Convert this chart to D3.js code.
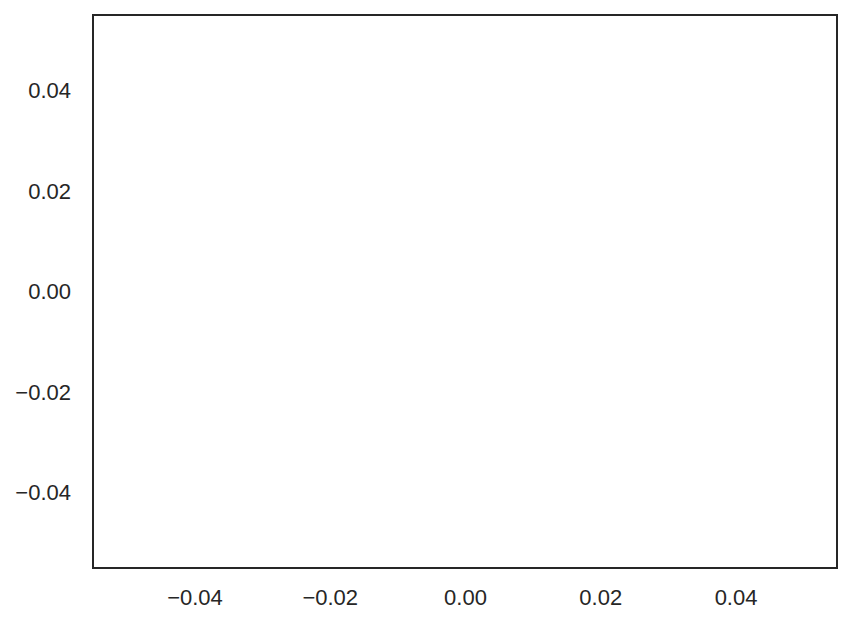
<!DOCTYPE html>
<html>
<head>
<meta charset="utf-8">
<script src="https://cdn.jsdelivr.net/npm/d3@7"></script>
<style>
  body { margin: 0; background: #fff; }
  text { font-family: "Liberation Sans", Arial, sans-serif; }
</style>
</head>
<body>
<div id="chart"></div>
<script>
// Empty axes, both running -0.055 .. 0.055
var xDomain = [-0.055, 0.055];
var yDomain = [-0.055, 0.055];
var xTicks = [-0.04, -0.02, 0.00, 0.02, 0.04];
var yTicks = [-0.04, -0.02, 0.00, 0.02, 0.04];

var width = 851, height = 624;
var margin = {left: 93, right: 14, top: 15, bottom: 56};

var svg = d3.select("#chart").append("svg")
  .attr("width", width)
  .attr("height", height);

var x = d3.scaleLinear()
  .domain(xDomain)
  .range([margin.left, width - margin.right]);

var y = d3.scaleLinear()
  .domain(yDomain)
  .range([height - margin.bottom, margin.top]);

var fmt = function(d) { return d3.format(".2f")(d).replace("-", "\u2212"); };

// x axis labels
var xAxis = svg.append("g")
  .attr("transform", "translate(0," + (height - margin.bottom) + ")")
  .call(d3.axisBottom(x).tickValues(xTicks).tickFormat(fmt).tickSize(0).tickPadding(21));
xAxis.select(".domain").remove();
xAxis.selectAll("text")
  .attr("font-size", "22px")
  .attr("fill", "#262626")
  .attr("font-family", "'Liberation Sans', Arial, sans-serif");

// y axis labels
var yAxis = svg.append("g")
  .attr("transform", "translate(" + margin.left + ",0)")
  .call(d3.axisLeft(y).tickValues(yTicks).tickFormat(fmt).tickSize(0).tickPadding(22));
yAxis.select(".domain").remove();
yAxis.selectAll("text")
  .attr("font-size", "22px")
  .attr("fill", "#262626")
  .attr("font-family", "'Liberation Sans', Arial, sans-serif");

// frame
svg.append("rect")
  .attr("x", x(xDomain[0]))
  .attr("y", y(yDomain[1]))
  .attr("width", x(xDomain[1]) - x(xDomain[0]))
  .attr("height", y(yDomain[0]) - y(yDomain[1]))
  .attr("fill", "none")
  .attr("stroke", "#262626")
  .attr("stroke-width", 2);
</script>
</body>
</html>
